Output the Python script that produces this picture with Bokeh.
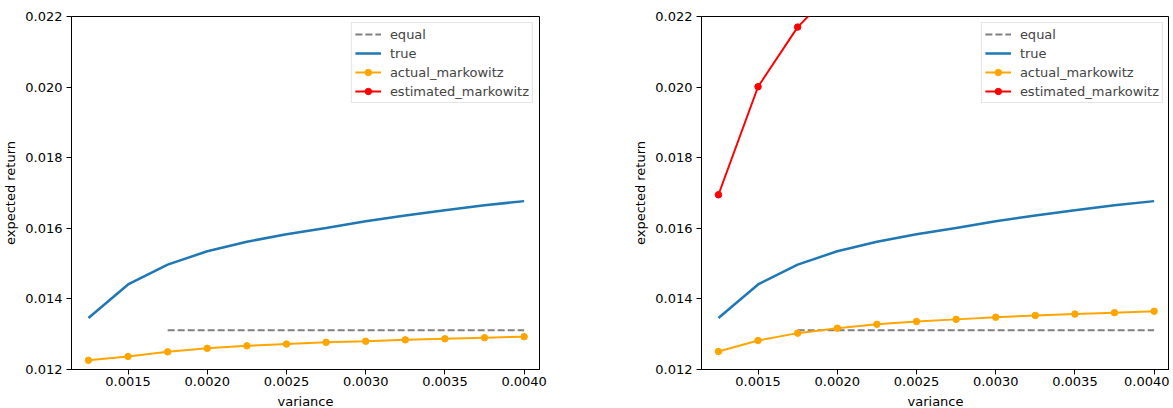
from bokeh.plotting import figure
from bokeh.layouts import row
from bokeh.models import FixedTicker, PrintfTickFormatter, Range1d
from bokeh.embed import file_html
from bokeh.resources import INLINE

variance = [0.00125, 0.0015, 0.00175, 0.002, 0.00225, 0.0025,
            0.00275, 0.003, 0.00325, 0.0035, 0.00375, 0.004]
true_ret = [0.01346, 0.01441, 0.01497, 0.01535, 0.01562, 0.01583,
            0.01601, 0.01620, 0.01636, 0.01651, 0.01665, 0.01677]
equal_var = [0.00175, 0.002, 0.00225, 0.0025, 0.00275, 0.003,
             0.00325, 0.0035, 0.00375, 0.004]
equal_ret = [0.01311, 0.01311, 0.01311, 0.01311, 0.01311, 0.01311,
             0.01311, 0.01311, 0.01311, 0.01311]
actual_left = [0.01226, 0.01237, 0.01250, 0.01260, 0.01267, 0.01272,
               0.01277, 0.01280, 0.01284, 0.01287, 0.01290, 0.01293]
estimated_left = [0.0231, 0.0246, 0.0258, 0.0267, 0.0275, 0.0282,
                  0.0288, 0.0293, 0.0298, 0.0302, 0.0306, 0.0310]
actual_right = [0.01251, 0.01282, 0.01303, 0.01317, 0.01328, 0.01336,
                0.01342, 0.01348, 0.01353, 0.01357, 0.01361, 0.01365]
estimated_right = [0.01695, 0.02001, 0.02170, 0.02285, 0.0237, 0.0244,
                   0.0250, 0.0255, 0.0259, 0.0263, 0.0266, 0.0269]

x_ticks = [0.0015, 0.002, 0.0025, 0.003, 0.0035, 0.004]
y_ticks = [0.012, 0.014, 0.016, 0.018, 0.020, 0.022]

FONT = "DejaVu Sans"
FS = "13px"


def make_panel(actual, estimated, right_border):
    p = figure(frame_width=468, frame_height=353,
               min_border_left=65, min_border_right=right_border,
               min_border_top=16, min_border_bottom=34,
               x_range=Range1d(0.001143, 0.004097), y_range=Range1d(0.012, 0.022),
               output_backend="svg", toolbar_location=None)
    p.xgrid.visible = False
    p.ygrid.visible = False
    p.outline_line_color = "black"
    p.outline_line_width = 1
    p.outline_line_alpha = 1

    p.line(equal_var, equal_ret, color="gray", line_width=2,
           line_dash="7 3", legend_label="equal")
    p.line(variance, true_ret, color="#1f77b4", line_width=2.5,
           legend_label="true")
    p.line(variance, actual, color="orange", line_width=2,
           legend_label="actual_markowitz")
    p.scatter(variance, actual, color="orange", size=6.5,
              legend_label="actual_markowitz")
    p.line(variance, estimated, color="red", line_width=2,
           legend_label="estimated_markowitz")
    p.scatter(variance, estimated, color="red", size=6.5,
              legend_label="estimated_markowitz")

    for ax in (p.xaxis[0], p.yaxis[0]):
        ax.axis_line_color = "black"
        ax.major_tick_line_color = "black"
        ax.major_tick_out = 5
        ax.major_tick_in = 0
        ax.minor_tick_line_color = None
        ax.major_label_text_font = FONT
        ax.major_label_text_font_size = FS
        ax.major_label_text_color = "black"
        ax.axis_label_text_font = FONT
        ax.axis_label_text_font_size = FS
        ax.axis_label_text_font_style = "normal"
        ax.axis_label_text_color = "black"
        ax.major_label_standoff = 4
        ax.axis_label_standoff = 4

    p.xaxis.ticker = FixedTicker(ticks=x_ticks)
    p.xaxis.formatter = PrintfTickFormatter(format="%.4f")
    p.xaxis.axis_label = "variance"
    p.xaxis.major_label_standoff = 2
    p.xaxis.axis_label_standoff = 5
    p.yaxis.ticker = FixedTicker(ticks=y_ticks)
    p.yaxis.formatter = PrintfTickFormatter(format="%.3f")
    p.yaxis.axis_label = "expected return"

    lg = p.legend[0]
    lg.location = "top_right"
    lg.margin = 6
    lg.padding = 3
    lg.spacing = 3
    lg.label_height = 16
    lg.glyph_height = 16
    lg.glyph_width = 26
    lg.label_standoff = 9
    lg.label_text_font = FONT
    lg.label_text_font_size = FS
    lg.border_line_color = "#cccccc"
    lg.border_line_width = 1
    lg.background_fill_alpha = 0.8
    return p


p1 = make_panel(actual_left, estimated_left, 91)
p2 = make_panel(actual_right, estimated_right, 0)
layout = row(p1, p2)

open("out.html", "w").write(file_html(layout, INLINE))
